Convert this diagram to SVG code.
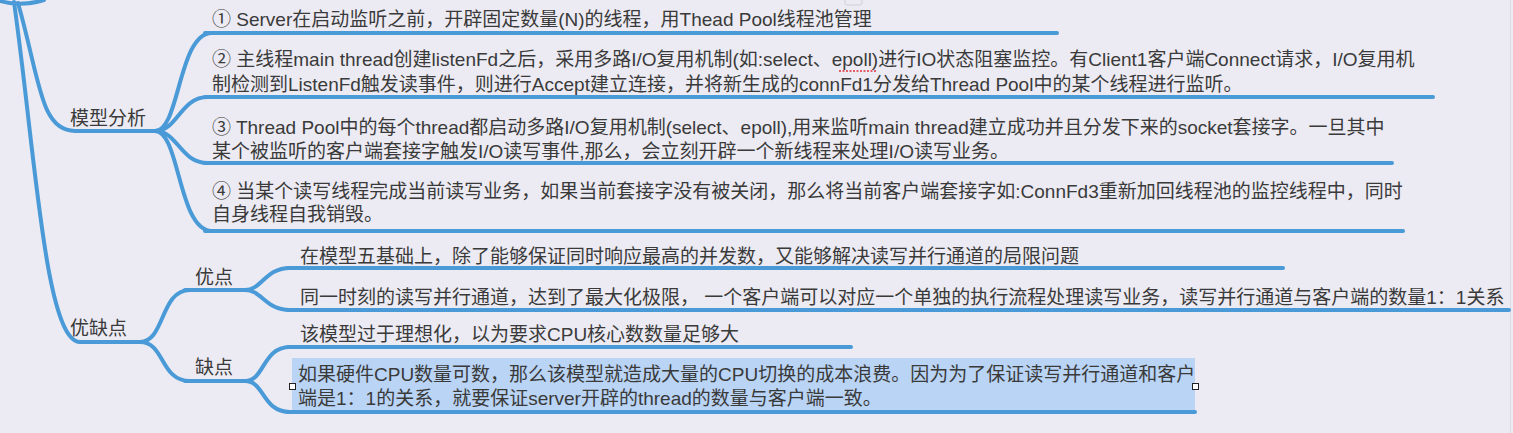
<svg xmlns="http://www.w3.org/2000/svg" width="1513" height="433" viewBox="0 0 1513 433">
<style>
.bg{fill:#ecebf3}
.ln{fill:none;stroke:#4a9ad8;stroke-width:4;stroke-linecap:round}
.t{font-family:"Liberation Sans","Noto Sans CJK SC",sans-serif;font-size:19px;fill:#3a3a3a}
.hl{fill:#b9d4f5}
.hd{fill:#ffffff;stroke:#222;stroke-width:1}
</style>
<rect class="bg" x="0" y="0" width="1513" height="433"/>
<line x1="1510.5" y1="0" x2="1510.5" y2="433" stroke="#dcdbe4" stroke-width="1"/>
<rect x="845" y="-4" width="17" height="9" rx="2" fill="none" stroke="#cfcfd6" stroke-width="1"/>
<g id="connectors">
<path class="ln" d="M0,1 Q20,7 44,0"/>
<path class="ln" d="M14,2 C35,150 45,342 80,342 L140,342"/>
<path class="ln" d="M18,3 C40,80 40,131 75,131 L155,131"/>
<path class="ln" d="M155,131 C180,131 178,33 212,33"/>
<path class="ln" d="M155,131 C178,131 180,97 208,97"/>
<path class="ln" d="M155,131 C178,131 180,163 208,163"/>
<path class="ln" d="M155,131 C180,131 178,231 212,231"/>
<path class="ln" d="M140,342 C165,342 160,290 190,290"/>
<path class="ln" d="M140,342 C165,342 160,381 190,381"/>
<path class="ln" d="M245,290 C262,290 265,268 290,268"/>
<path class="ln" d="M245,290 C262,290 265,310 290,310"/>
<path class="ln" d="M245,381 C265,381 262,347 290,347"/>
<path class="ln" d="M245,381 C265,381 262,412 290,412"/>
</g>
<g id="n-model">
<text class="t" x="70" y="125">模型分析</text>
</g>
<g id="n-item1">
<line class="ln" x1="205" y1="33" x2="1057" y2="33"/>
<text class="t" x="212" y="26">① Server在启动监听之前，开辟固定数量(N)的线程，用Thead Pool线程池管理</text>
</g>
<g id="n-item2">
<line class="ln" x1="205" y1="97" x2="1433" y2="97"/>
<text class="t" x="212" y="66">② 主线程main thread创建listenFd之后，采用多路I/O复用机制(如:select、epoll)进行IO状态阻塞监控。有Client1客户端Connect请求，I/O复用机</text>
<text class="t" x="212" y="91">制检测到ListenFd触发读事件，则进行Accept建立连接，并将新生成的connFd1分发给Thread Pool中的某个线程进行监听。</text>
<line x1="839" y1="71" x2="876" y2="71" stroke="#e0303a" stroke-width="1.5" stroke-dasharray="2 1.5"/>
</g>
<g id="n-item3">
<line class="ln" x1="205" y1="163" x2="1392" y2="163"/>
<text class="t" x="212" y="134">③ Thread Pool中的每个thread都启动多路I/O复用机制(select、epoll),用来监听main thread建立成功并且分发下来的socket套接字。一旦其中</text>
<text class="t" x="212" y="158">某个被监听的客户端套接字触发I/O读写事件,那么，会立刻开辟一个新线程来处理I/O读写业务。</text>
</g>
<g id="n-item4">
<line class="ln" x1="205" y1="231" x2="1403" y2="231"/>
<text class="t" x="212" y="198">④ 当某个读写线程完成当前读写业务，如果当前套接字没有被关闭，那么将当前客户端套接字如:ConnFd3重新加回线程池的监控线程中，同时</text>
<text class="t" x="212" y="221">自身线程自我销毁。</text>
</g>
<g id="n-proscons">
<text class="t" x="70" y="335">优缺点</text>
</g>
<g id="n-pros">
<line class="ln" x1="185" y1="290" x2="245" y2="290"/>
<text class="t" x="195" y="284">优点</text>
</g>
<g id="n-pros1">
<line class="ln" x1="288" y1="268" x2="1283" y2="268"/>
<text class="t" x="300" y="263">在模型五基础上，除了能够保证同时响应最高的并发数，又能够解决读写并行通道的局限问题</text>
</g>
<g id="n-pros2">
<line class="ln" x1="288" y1="310" x2="1509" y2="310"/>
<text class="t" x="300" y="304">同一时刻的读写并行通道，达到了最大化极限， 一个客户端可以对应一个单独的执行流程处理读写业务，读写并行通道与客户端的数量1：1关系</text>
</g>
<g id="n-cons">
<line class="ln" x1="185" y1="381" x2="245" y2="381"/>
<text class="t" x="195" y="374">缺点</text>
</g>
<g id="n-cons1">
<line class="ln" x1="288" y1="347" x2="851" y2="347"/>
<text class="t" x="300" y="341">该模型过于理想化，以为要求CPU核心数数量足够大</text>
</g>
<g id="n-cons2">
<rect class="hl" x="292" y="358" width="903" height="54"/>
<line class="ln" x1="288" y1="412" x2="1195" y2="412"/>
<text class="t" x="298" y="381">如果硬件CPU数量可数，那么该模型就造成大量的CPU切换的成本浪费。因为为了保证读写并行通道和客户</text>
<text class="t" x="298" y="405">端是1：1的关系，就要保证server开辟的thread的数量与客户端一致。</text>
<rect class="hd" x="289.5" y="383.5" width="6" height="6"/>
<rect class="hd" x="1192.5" y="383.5" width="6" height="6"/>
</g>
</svg>
